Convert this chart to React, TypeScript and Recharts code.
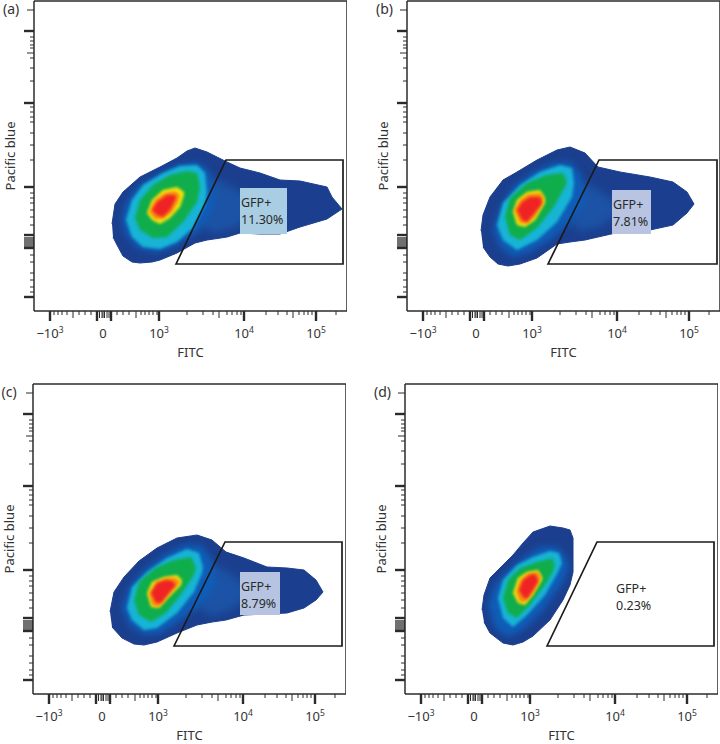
import React from 'react';
import { ScatterChart, Scatter, XAxis, YAxis, ReferenceLine } from 'recharts';

// all positions are display channels of the cytometer plot (0-313 FITC, 0-310 Pacific blue)
const majorX = [16, 63, 77, 125, 210, 282];
const clusterX = [65.5, 68, 70.5, 73, 75];
const mediumX = [39, 102, 185, 259];
const shortX = [20, 24, 28, 33, 45, 51, 57, 83, 89, 95, 107, 111, 115, 119, 123, 153, 169, 179, 193, 198, 203, 207, 232, 244, 253, 265, 270, 274, 278, 302];
const zeroTick = 69;
const majorY = [14, 63, 76, 124, 208, 280];
const clusterY = [65, 67, 69, 71, 73];
const mediumY = [258, 301];
const shortY = [19, 24, 31, 38, 49, 56, 86, 94, 101, 108, 113, 118, 151, 166, 178, 189, 194, 199, 204, 230, 243, 253, 263, 266, 270, 274];
const xTickLabels: Record<number, [string, string]> = { 16: ['−10', '3'], 69: ['0', ''], 125: ['10', '3'], 210: ['10', '4'], 282: ['10', '5'] };

const densityColors = ['#0f5db8', '#17b4d6', '#10ad4c', '#f4e409', '#f88a12', '#ef2324'];

type Pair = [number, number];

const outerA: Pair[] = [[78, 87], [81, 107], [89, 119], [106, 134], [126, 144], [143, 153], [153, 160], [161, 163], [173, 159], [193, 149], [206, 143], [226, 138], [246, 131], [266, 130], [293, 124], [298, 114], [308, 102], [293, 92], [266, 84], [246, 77], [226, 77], [206, 78], [193, 74], [173, 71], [161, 68], [143, 58], [126, 51], [118, 49], [106, 48], [98, 49], [89, 55], [83, 66], [79, 74]];
const shoulderA: Pair[] = [[165, 140], [190, 128], [215, 115], [220, 100], [205, 85], [180, 78], [165, 85]];
const levelsA: Pair[][] = [
  [[88, 91], [91, 106], [103, 123], [123, 136], [143, 146], [163, 149], [174, 141], [181, 118], [179, 101], [163, 78], [143, 66], [123, 58], [103, 63], [91, 78]],
  [[92, 91], [98, 111], [109, 126], [129, 138], [146, 145], [163, 146], [171, 138], [173, 118], [171, 106], [159, 83], [143, 69], [126, 62], [109, 64], [98, 74]],
  [[101, 93], [106, 111], [119, 126], [136, 136], [153, 140], [163, 138], [166, 124], [163, 109], [149, 89], [133, 74], [119, 73], [106, 81]],
  [[113, 98], [118, 111], [129, 121], [143, 124], [150, 119], [150, 116], [146, 104], [136, 93], [126, 87], [118, 91]],
  [[115, 99], [121, 111], [131, 118], [141, 120], [146, 116], [144, 109], [138, 99], [129, 92], [121, 92]],
  [[118, 101], [123, 109], [133, 116], [141, 116], [142, 113], [136, 101], [129, 94], [123, 96]],
];
const gateA: Pair[] = [[142, 47], [192, 151], [309, 151], [309, 47]];
const boxA: Pair[] = [[206, 123], [253, 123], [253, 77], [206, 77]];

const outerB: Pair[] = [[74, 80], [76, 96], [83, 114], [96, 131], [110, 139], [130, 151], [150, 161], [163, 164], [178, 158], [191, 144], [213, 139], [243, 134], [266, 129], [280, 119], [287, 107], [280, 98], [266, 86], [243, 81], [213, 79], [191, 74], [178, 71], [163, 69], [150, 67], [130, 53], [113, 47], [101, 45], [91, 47], [83, 54], [76, 64]];
const shoulderB: Pair[] = [[165, 135], [185, 125], [205, 112], [210, 98], [195, 85], [175, 80], [165, 85]];
const levelsB: Pair[][] = [
  [[86, 81], [93, 103], [106, 124], [126, 139], [146, 148], [163, 149], [173, 138], [178, 114], [176, 106], [163, 88], [143, 71], [123, 59], [106, 54], [93, 64]],
  [[90, 86], [96, 108], [113, 126], [133, 139], [153, 146], [165, 143], [167, 128], [165, 114], [150, 89], [130, 71], [110, 61], [96, 71]],
  [[98, 94], [103, 113], [120, 128], [140, 136], [156, 138], [160, 129], [158, 124], [146, 103], [130, 83], [113, 71], [103, 76]],
  [[106, 99], [110, 111], [120, 119], [133, 121], [138, 113], [138, 108], [128, 91], [118, 84], [110, 86]],
  [[107, 101], [113, 111], [121, 117], [133, 118], [137, 113], [136, 108], [128, 94], [120, 87], [113, 88]],
  [[110, 101], [115, 109], [123, 114], [133, 114], [135, 109], [134, 106], [126, 96], [120, 89], [115, 91]],
];
const gateB: Pair[] = [[141, 47], [192, 151], [310, 151], [310, 47]];
const boxB: Pair[] = [[205, 121], [244, 121], [244, 77], [205, 77]];

const outerC: Pair[] = [[77, 82], [81, 102], [91, 117], [106, 133], [124, 146], [144, 156], [164, 159], [179, 154], [193, 142], [211, 136], [234, 127], [254, 126], [271, 124], [283, 114], [290, 102], [283, 94], [271, 86], [254, 81], [234, 80], [211, 79], [193, 74], [179, 72], [164, 69], [144, 61], [124, 52], [111, 49], [101, 50], [89, 56], [79, 67]];
const shoulderC: Pair[] = [[170, 135], [190, 125], [210, 112], [215, 98], [200, 85], [180, 78], [165, 85]];
const levelsC: Pair[][] = [
  [[89, 86], [96, 106], [111, 124], [131, 139], [151, 149], [168, 149], [178, 136], [183, 112], [181, 106], [168, 89], [148, 74], [128, 61], [111, 59], [96, 69]],
  [[94, 86], [99, 107], [114, 122], [134, 136], [154, 145], [166, 141], [170, 127], [169, 121], [161, 102], [144, 81], [124, 66], [111, 64], [99, 74]],
  [[101, 94], [106, 112], [122, 126], [141, 134], [158, 137], [163, 127], [161, 119], [149, 101], [133, 81], [118, 72], [106, 79]],
  [[114, 101], [119, 112], [131, 117], [144, 119], [149, 114], [148, 109], [136, 97], [126, 86], [118, 87]],
  [[116, 101], [123, 112], [133, 116], [143, 116], [147, 112], [145, 109], [134, 97], [126, 87], [119, 89]],
  [[118, 101], [124, 111], [133, 114], [139, 113], [143, 109], [141, 107], [136, 101], [128, 91], [123, 91]],
];
const gateC: Pair[] = [[141, 48], [192, 152], [309, 152], [309, 48]];
const boxC: Pair[] = [[207, 122], [247, 122], [247, 79], [207, 79]];

const outerD: Pair[] = [[77, 84], [79, 99], [85, 116], [98, 129], [108, 139], [118, 151], [128, 162], [145, 168], [158, 166], [165, 164], [168, 156], [168, 122], [165, 109], [158, 94], [145, 74], [128, 58], [118, 52], [108, 49], [98, 51], [85, 61], [79, 72]];
const levelsD: Pair[][] = [
  [[83, 89], [90, 109], [102, 122], [118, 136], [135, 147], [152, 147], [160, 139], [164, 127], [158, 112], [138, 84], [118, 64], [103, 57], [90, 66]],
  [[93, 96], [98, 114], [112, 129], [128, 137], [145, 143], [154, 141], [157, 131], [153, 122], [140, 99], [122, 79], [108, 67], [98, 76]],
  [[98, 96], [103, 114], [115, 126], [132, 132], [147, 136], [150, 129], [148, 122], [140, 109], [125, 89], [112, 76], [103, 81]],
  [[108, 101], [113, 116], [122, 122], [133, 124], [137, 117], [137, 114], [128, 99], [120, 89], [113, 91]],
  [[111, 102], [115, 114], [123, 121], [133, 122], [136, 117], [135, 114], [128, 101], [120, 92], [115, 92]],
  [[114, 104], [118, 114], [125, 119], [130, 120], [133, 114], [133, 112], [128, 104], [122, 95], [118, 97]],
];
const gateD: Pair[] = [[142, 48], [192, 152], [309, 152], [309, 48]];
const boxD: Pair[] = [[210, 120], [250, 120], [250, 79], [210, 79]];

const INK = '#2b2b2b';
const FONT = '"Noto Sans", sans-serif';

const toPoints = (pairs: Pair[]) => pairs.map(([x, y]) => ({ x, y }));
const NoDot = () => <g />;

const XTick = ({ x, y, payload }: any) => {
  const v = payload.value;
  const major = majorX.includes(v);
  const len = major ? 10 : clusterX.includes(v) || mediumX.includes(v) || v === zeroTick ? 7 : 4;
  const label = xTickLabels[v];
  return (
    <g>
      <line x1={x} x2={x} y1={y} y2={y + len} stroke={INK} strokeWidth={major ? 2.4 : 1} />
      {label && (
        <text x={x} y={y + 27} textAnchor="middle" fontSize={13} fontFamily={FONT} fill="#333">
          {label[0]}
          {label[1] && <tspan dy={-5} fontSize={8.5}>{label[1]}</tspan>}
        </text>
      )}
    </g>
  );
};

const YTick = ({ x, y, payload }: any) => {
  const v = payload.value;
  const major = majorY.includes(v);
  const cluster = clusterY.includes(v);
  const len = major || cluster ? 10 : mediumY.includes(v) ? 7 : 4;
  return <line x1={x - len} x2={x} y1={y} y2={y} stroke={cluster ? '#111' : INK} strokeWidth={major ? 2.4 : cluster ? 1.2 : 1} />;
};

interface PanelProps {
  letter: string;
  left: number;
  top: number;
  outer: Pair[];
  shoulder?: Pair[];
  levels: Pair[][];
  gate: Pair[];
  box: Pair[];
  boxFill: string;
  percent: string;
}

const Panel: React.FC<PanelProps> = ({ letter, left, top, outer, shoulder, levels, gate, box, boxFill, percent }) => {
  const boxText = ({ cx, cy }: any) => (
    <text fontSize={12.5} fontFamily={FONT} fill="#2a2a2a">
      <tspan x={cx + 1} y={cy + 19}>GFP+</tspan>
      <tspan x={cx + 1} y={cy + 36}>{percent}</tspan>
    </text>
  );
  return (
    <div style={{ position: 'absolute', left, top, width: 347, height: 370 }}>
      <ScatterChart width={347} height={370} margin={{ top: 1, right: 0, left: 0, bottom: 0 }}>
        <XAxis
          type="number"
          dataKey="x"
          domain={[0, 313]}
          ticks={[...majorX, ...clusterX, zeroTick, ...mediumX, ...shortX]}
          interval={0}
          height={59}
          tickLine={false}
          tickSize={0}
          tickMargin={0}
          tick={XTick}
          axisLine={{ stroke: INK, strokeWidth: 1.5 }}
          label={{ value: 'FITC', position: 'center', dy: 12, fontSize: 13, fontFamily: FONT, fill: '#333' }}
        />
        <YAxis
          type="number"
          dataKey="y"
          domain={[0, 310]}
          ticks={[...majorY, ...clusterY, ...mediumY, ...shortY]}
          interval={0}
          width={34}
          tickLine={false}
          tickSize={0}
          tickMargin={0}
          tick={YTick}
          axisLine={{ stroke: INK, strokeWidth: 1.5 }}
          label={{ value: 'Pacific blue', angle: -90, position: 'center', dx: -7, fontSize: 13, fontFamily: FONT, fill: '#333' }}
        />
        <ReferenceLine y={310} stroke={INK} strokeWidth={1.5} />
        <ReferenceLine x={313} stroke={INK} strokeWidth={1.5} />
        <Scatter
          data={toPoints(outer)}
          shape={NoDot}
          line={{ fill: '#1b3f8e', stroke: '#1b3f8e', strokeWidth: 1 }}
          lineJointType="catmullRomClosed"
          isAnimationActive={false}
        />
        {shoulder && (
          <Scatter
            data={toPoints(shoulder)}
            shape={NoDot}
            line={{ fill: '#1c53a6', stroke: 'none', style: { filter: 'blur(4px)' } }}
            lineJointType="catmullRomClosed"
            isAnimationActive={false}
          />
        )}
        {levels.map((level, i) => (
          <Scatter
            key={i}
            data={toPoints(level)}
            shape={NoDot}
            line={{ fill: densityColors[i], stroke: 'none', style: { filter: i === 0 ? 'blur(3px)' : 'blur(1.8px)' } }}
            lineJointType="catmullRomClosed"
            isAnimationActive={false}
          />
        ))}
        <Scatter
          data={toPoints(box)}
          shape={NoDot}
          line={{ fill: boxFill, stroke: 'none' }}
          lineJointType="linearClosed"
          isAnimationActive={false}
        />
        <Scatter data={toPoints(box.slice(0, 1))} shape={boxText} isAnimationActive={false} />
        <Scatter
          data={toPoints(gate)}
          shape={NoDot}
          line={{ fill: 'none', stroke: '#1a1a1a', strokeWidth: 1.7 }}
          lineJointType="linearClosed"
          isAnimationActive={false}
        />
      </ScatterChart>
      <div style={{ position: 'absolute', left: 3, top: -1, fontFamily: FONT, fontSize: 14, color: '#333' }}>{letter}</div>
    </div>
  );
};

export default function App() {
  return (
    <div style={{ position: 'absolute', left: 0, top: 0, width: 720, height: 744, background: '#fff', overflow: 'hidden' }}>
      <Panel letter="(a)" left={0} top={0} outer={outerA} shoulder={shoulderA} levels={levelsA} gate={gateA} box={boxA} boxFill="#a9cde3" percent="11.30%" />
      <Panel letter="(b)" left={373} top={0} outer={outerB} shoulder={shoulderB} levels={levelsB} gate={gateB} box={boxB} boxFill="#b8c4e2" percent="7.81%" />
      <Panel letter="(c)" left={-1.5} top={383} outer={outerC} shoulder={shoulderC} levels={levelsC} gate={gateC} box={boxC} boxFill="#b6c4e1" percent="8.79%" />
      <Panel letter="(d)" left={371} top={383} outer={outerD} levels={levelsD} gate={gateD} box={boxD} boxFill="none" percent="0.23%" />
    </div>
  );
}
